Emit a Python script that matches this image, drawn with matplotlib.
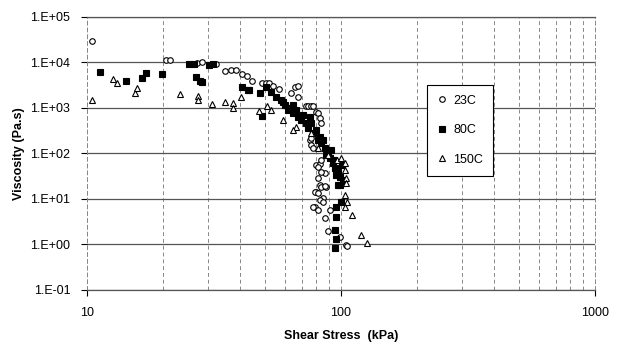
import math
import matplotlib
matplotlib.use("Agg")
import matplotlib.pyplot as plt
from matplotlib.ticker import FixedLocator, FuncFormatter, NullFormatter

plt.rcParams['font.family'] = ['Liberation Sans', 'DejaVu Sans']

# 23C - open circles
c23_x = [10.5, 20.5, 21.3, 27.2, 28.4, 32.2, 34.9, 36.8, 38.5, 40.6, 42.6, 44.5,
         48.7, 50.5, 51.9, 54.2, 56.8, 63.8, 66.1, 67.9, 67.9, 72.9, 74.3, 76.4,
         77.6, 79.8, 81.3, 82.8, 83.6, 75.7, 76.4, 76.4, 77.6, 79.8, 82.8, 83.6,
         81.3, 86.6, 83.6, 81.3, 82.8, 83.6, 87.4, 86.6, 79.8, 79.1, 81.3, 85.1,
         82.8, 85.1, 79.1, 77.6, 81.3, 90.6, 86.6, 89.0, 99.0, 104.7, 106.0]
c23_y = [29500, 11400, 11400, 9770, 10200, 9270, 6500, 6840, 6840, 5590, 5000, 3920,
         3540, 3540, 3540, 3050, 2620, 2140, 2900, 3050, 1740, 1100, 1100, 1100,
         1100, 810, 780, 600, 468, 198, 154, 219, 131, 56, 59, 72,
         50, 37, 39, 29, 20, 18.4, 18.4, 19.3, 14.3, 14.3, 13.5, 10.5,
         9.5, 8.6, 6.7, 6.7, 5.7, 5.7, 3.8, 2.0, 1.46, 0.97, 0.94]

# 80C - filled squares
c80_x = [11.3, 14.3, 16.4, 17.0, 19.8, 25.2, 26.4, 26.9, 27.9, 28.4, 30.2, 31.3,
         40.6, 43.0, 43.4, 47.9, 48.7, 50.5, 52.9, 55.3, 57.8, 59.3, 60.4, 62.1,
         63.2, 64.9, 64.9, 66.7, 67.9, 69.8, 71.1, 73.0, 74.3, 75.7, 76.4, 77.6,
         79.8, 81.3, 82.8, 83.5, 85.1, 86.6, 87.4, 89.0, 90.6, 91.4, 93.1, 94.0,
         94.8, 95.6, 97.3, 99.0, 101, 97.3, 95.6, 102, 99.0, 100, 95.6, 95.6,
         94.8, 95.6, 94.8]
c80_y = [6200, 3920, 4560, 5900, 5600, 9270, 9270, 4800, 3900, 3700, 8800, 9270,
         2900, 2490, 2490, 2140, 660, 2900, 2250, 1740, 1500, 1350, 1160, 900,
         1000, 780, 1160, 900, 635, 545, 700, 468, 363, 635, 468, 282,
         330, 198, 231, 170, 198, 131, 93, 102, 79, 119, 61, 72,
         48, 43, 39, 30, 56, 20, 34, 26, 20, 8.6, 6.7, 4.0,
         2.1, 1.3, 0.84]

# 150C - open triangles
c150_x = [10.5, 12.7, 13.1, 15.5, 15.8, 23.3, 27.4, 27.4, 31.0, 34.9, 37.5, 37.5,
          40.3, 47.4, 50.9, 52.8, 58.9, 66.2, 65.0, 76.4, 81.0, 89.0, 96.0, 100,
          104, 104, 104.7, 104.7, 104, 106, 104, 110, 120, 127]
c150_y = [1500, 4300, 3550, 2140, 2750, 2040, 1830, 1500, 1220, 1360, 1300, 1000,
          1740, 860, 1110, 900, 545, 382, 330, 282, 131, 93, 72, 80,
          61, 43, 29, 22, 12, 8.6, 6.7, 4.4, 1.6, 1.08]

fig = plt.figure(figsize=(6.18, 3.44), dpi=100)
ax = fig.add_axes([0.1408, 0.157, 0.822, 0.794])

ax.plot(c23_x, c23_y, 'o', ms=4, mfc='white', mec='black', mew=0.8, label='23C', zorder=3)
ax.plot(c80_x, c80_y, 's', ms=4, mfc='black', mec='black', mew=0.8, label='80C', zorder=3)
ax.plot(c150_x, c150_y, '^', ms=4, mfc='white', mec='black', mew=0.8, label='150C', zorder=3)

ax.set_xscale('log')
ax.set_yscale('log')
ax.set_xlim(10, 1000)
ax.set_ylim(0.1, 1e5)

ax.xaxis.set_major_locator(FixedLocator([10, 100, 1000]))
ax.xaxis.set_major_formatter(FuncFormatter(lambda v, p: '%g' % v))
ax.xaxis.set_minor_locator(FixedLocator([k * d for d in (10, 100) for k in range(2, 10)]))
ax.xaxis.set_minor_formatter(NullFormatter())
ax.yaxis.set_major_locator(FixedLocator([10.0 ** e for e in range(-1, 6)]))
ax.yaxis.set_major_formatter(FuncFormatter(lambda v, p: '1.E%+03d' % round(math.log10(v))))
ax.yaxis.set_minor_locator(FixedLocator([]))

ax.tick_params(which='major', direction='out', length=4, width=0.8, labelsize=9, pad=8)
ax.tick_params(which='minor', length=0)

ax.grid(axis='y', which='major', color='#555555', lw=0.9, ls='-')
ax.grid(axis='x', which='both', color='#888888', lw=0.7, ls=(0, (4, 3)))

for side in ('left', 'right'):
    ax.spines[side].set_color('#888888')
    ax.spines[side].set_linestyle((0, (4, 3)))
    ax.spines[side].set_linewidth(0.7)
for side in ('top', 'bottom'):
    ax.spines[side].set_color('#555555')
    ax.spines[side].set_linewidth(0.9)

ax.set_xlabel('Shear Stress  (kPa)', fontsize=9, fontweight='bold', labelpad=8)
ax.set_ylabel('Viscosity (Pa.s)', fontsize=9, fontweight='bold', labelpad=4)

leg = ax.legend(loc='lower left', bbox_to_anchor=(0.669, 0.418), fontsize=9,
                frameon=True, fancybox=False, edgecolor='black', framealpha=1,
                labelspacing=1.4, handlelength=0.8, handletextpad=0.5,
                borderpad=0.8, borderaxespad=0)
leg.get_frame().set_linewidth(0.8)

fig.savefig('out.png', dpi=100)
